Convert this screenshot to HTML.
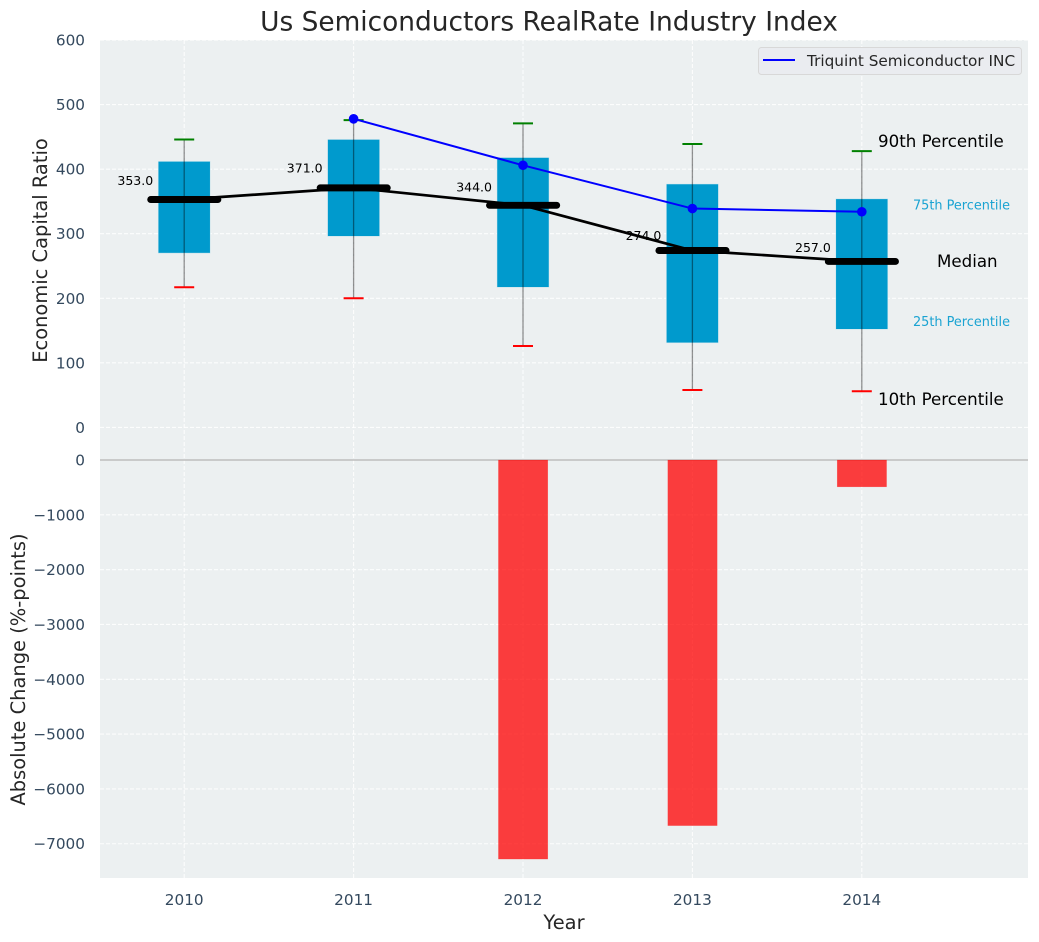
<!DOCTYPE html>
<html lang="en">
<head>
<meta charset="utf-8">
<title>Us Semiconductors RealRate Industry Index</title>
<style>
html,body{margin:0;padding:0;background:#fff;width:1039px;height:942px;overflow:hidden}
svg{display:block}
text{font-family:"DejaVu Sans","Liberation Sans",sans-serif}
</style>
</head>
<body>
<svg id="chart" xmlns="http://www.w3.org/2000/svg" width="1039" height="942" viewBox="0 0 1039 942">
  <rect x="100" y="40" width="928" height="838" fill="#ecf0f1"/>
  <text x="549" y="30.5" font-size="26.4" fill="#262626" text-anchor="middle">Us Semiconductors RealRate Industry Index</text>
  <text transform="translate(47,250.5) rotate(-90)" font-size="19.44" fill="#262626" text-anchor="middle">Economic Capital Ratio</text>
  <text transform="translate(25,669.5) rotate(-90)" font-size="19.44" fill="#262626" text-anchor="middle">Absolute Change (%-points)</text>
  <text x="564" y="929" font-size="19.44" fill="#262626" text-anchor="middle">Year</text>
  <g id="layer"></g>
  <g>
    <rect x="758.5" y="47.5" width="263" height="27" rx="3" fill="#eaecf0" stroke="#d8d8d8" stroke-width="1"/>
    <line x1="763" y1="60" x2="795" y2="60" stroke="#0000ff" stroke-width="2"/>
    <text x="807" y="66" font-size="15.28" fill="#262626">Triquint Semiconductor INC</text>
  </g>
</svg>
<script>
const categories = [2010, 2011, 2012, 2013, 2014];
const p10Values = [217, 200, 126, 58, 56];
const p25Values = [270, 296, 217, 131, 152];
const medianValues = [353, 371, 344, 274, 257];
const p75Values = [412, 446, 418, 377, 354];
const p90Values = [446, 476, 471, 439, 428];
const companyValues = [null, 478, 406, 339, 334];
const changeValues = [null, null, -7280, -6670, -490];
const upperTicks = [0, 100, 200, 300, 400, 500, 600];
const lowerTicks = [0, -1000, -2000, -3000, -4000, -5000, -6000, -7000];

const NS = 'http://www.w3.org/2000/svg';
const layer = document.getElementById('layer');
const plotLeft = 100, plotRight = 1028, plotTop = 40, plotBottom = 878;
const x = v => 184.2 + (v - 2010) * 169.4;
const yUpper = v => 427.4 - v * 0.6456;
const yLower = v => 460 + v * -0.05482;
const fmt = v => String(v).replace('-', '\u2212');

function make(tag, attrs, parent, content) {
  const el = document.createElementNS(NS, tag);
  for (const k in attrs) el.setAttribute(k, attrs[k]);
  if (content !== undefined) el.textContent = content;
  (parent || layer).appendChild(el);
  return el;
}
const gridStyle = {stroke: '#ffffff', 'stroke-opacity': 0.85, 'stroke-width': 1.1, 'stroke-dasharray': '4 2'};

upperTicks.forEach(t => {
  const line = make('line', Object.assign({x1: plotLeft, x2: plotRight, y1: yUpper(t), y2: yUpper(t)}, gridStyle));
  
  
  const label = make('text', {x: 85, y: yUpper(t) + 5.5, 'font-size': 15.28, fill: '#34495e', 'text-anchor': 'end'}, layer, fmt(t));
  
  
});
lowerTicks.forEach(t => {
  if (t !== 0) {
    const line = make('line', Object.assign({x1: plotLeft, x2: plotRight, y1: yLower(t), y2: yLower(t)}, gridStyle));
    
    
  }
  const label = make('text', {x: 85, y: yLower(t) + 5.5, 'font-size': 15.28, fill: '#34495e', 'text-anchor': 'end'}, layer, fmt(t));
  
  
});
categories.forEach(c => {
  const line = make('line', Object.assign({x1: x(c), x2: x(c), y1: plotTop, y2: plotBottom}, gridStyle));
  
  
  const label = make('text', {x: x(c), y: 905, 'font-size': 15.28, fill: '#34495e', 'text-anchor': 'middle'}, layer, String(c));
  
  
});

const zeroLine = make('line', {x1: plotLeft, x2: plotRight, y1: yLower(0), y2: yLower(0), stroke: '#bdbdbd', 'stroke-width': 1.4});



categories.forEach((c, i) => {
  const cx = x(c);
  const box = make('rect', {x: cx - 26, width: 52, y: yUpper(p75Values[i]), height: yUpper(p25Values[i]) - yUpper(p75Values[i]), fill: '#009acd', stroke: '#cfe6ee', 'stroke-width': 0.5});
  
  
  const whisker = make('line', {x1: cx, x2: cx, y1: yUpper(p90Values[i]), y2: yUpper(p10Values[i]), stroke: '#000000', 'stroke-opacity': 0.42, 'stroke-width': 1.3});
  
  
  const capTop = make('line', {x1: cx - 10, x2: cx + 10, y1: yUpper(p90Values[i]), y2: yUpper(p90Values[i]), stroke: '#008000', 'stroke-width': 2});
  
  
  const capBottom = make('line', {x1: cx - 10, x2: cx + 10, y1: yUpper(p10Values[i]), y2: yUpper(p10Values[i]), stroke: '#ff0000', 'stroke-width': 2});
  
  
});

const medianPath = make('polyline', {points: categories.map((c, i) => x(c) + ',' + yUpper(medianValues[i])).join(' '), fill: 'none', stroke: '#000000', 'stroke-width': 2.7});



categories.forEach((c, i) => {
  const cx = x(c), my = yUpper(medianValues[i]);
  const bar = make('line', {x1: cx - 33.5, x2: cx + 33.7, y1: my, y2: my, stroke: '#000000', 'stroke-width': 6.9, 'stroke-linecap': 'round'});
  
  
  const label = make('text', {x: cx - 31, y: yUpper(medianValues[i] * 1.08) + 3.8, 'font-size': 12.5, fill: '#000000', 'text-anchor': 'end'}, layer, medianValues[i].toFixed(1));
  
  
});

const companyIdx = companyValues.map((v, i) => i).filter(i => companyValues[i] !== null);
const companyLine = make('polyline', {points: companyIdx.map(i => x(categories[i]) + ',' + yUpper(companyValues[i])).join(' '), fill: 'none', stroke: '#0000ff', 'stroke-width': 2});


companyIdx.forEach(i => {
  const pt = make('circle', {cx: x(categories[i]), cy: yUpper(companyValues[i]), r: 4.8, fill: '#0000ff'});
  
  
});

categories.forEach((c, i) => {
  if (changeValues[i] === null) return;
  const bar = make('rect', {x: x(c) - 24.6, width: 49.4, y: yLower(0), height: yLower(changeValues[i]) - yLower(0), fill: '#ff0000', 'fill-opacity': 0.75, stroke: '#ff0000', 'stroke-opacity': 0.2, 'stroke-width': 0.5});
  
  
});

const last = categories.length - 1;
const lastX = 861;
const p90Note = make('text', {x: lastX + 17, y: yUpper(p90Values[last]) - 4, 'font-size': 16.67, fill: '#000000'}, layer, '90th Percentile');


const p75Note = make('text', {x: lastX + 52, y: yUpper(p75Values[last]) + 10.5, 'font-size': 12.85, fill: '#1aa3d2'}, layer, '75th Percentile');


const medianNote = make('text', {x: lastX + 76, y: yUpper(medianValues[last]) + 5.5, 'font-size': 16.67, fill: '#000000'}, layer, 'Median');


const p25Note = make('text', {x: lastX + 52, y: yUpper(p25Values[last]) - 3.5, 'font-size': 12.85, fill: '#1aa3d2'}, layer, '25th Percentile');


const p10Note = make('text', {x: lastX + 17, y: yUpper(p10Values[last]) + 14, 'font-size': 16.67, fill: '#000000'}, layer, '10th Percentile');


</script>
</body>
</html>
